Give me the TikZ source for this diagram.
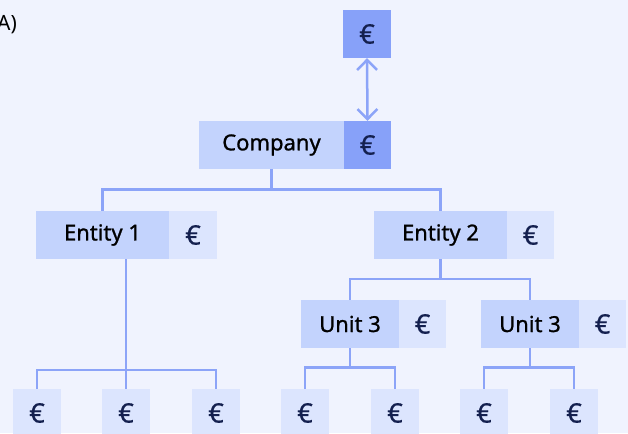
\documentclass[tikz,border=0pt]{standalone}
\usepackage{fontspec}
\setmainfont{Noto Sans}
\usetikzlibrary{arrows.meta}
\definecolor{bgc}{HTML}{F0F3FE}
\definecolor{midc}{HTML}{C3D3FD}
\definecolor{darkc}{HTML}{87A1F9}
\definecolor{lightc}{HTML}{DCE5FE}
\definecolor{linec}{HTML}{8CA4F8}
\definecolor{eurc}{HTML}{14204F}
\tikzset{
  box/.style={rectangle, inner sep=0pt, minimum height=48pt, text=black},
  lbl/.style={box, fill=midc, font=\fontsize{22}{24}\selectfont\addfontfeature{FakeBold=1}},
  eur/.style={box, text=eurc, font=\fontsize{27}{28}\selectfont\addfontfeature{FakeBold=0.6}},
  eurodark/.style={eur, fill=darkc, minimum width=47pt},
  eurolight/.style={eur, fill=lightc, minimum width=48pt},
  conn/.style={draw=linec, line width=2.5pt},
}
\begin{document}
\begin{tikzpicture}[x=1pt,y=-1pt]
\useasboundingbox (0,0) rectangle (628,433);
\fill[bgc] (0,0) rectangle (628,433);
\node[font=\fontsize{21}{24}\selectfont, anchor=east, inner sep=0pt] (lab) at (17,25) {A)};
% top
\node[eurodark, minimum width=48pt] (top) at (367,34) {€};
\node[lbl, minimum width=145pt] (comp) at (271.5,145) {Company};
\node[eurodark] (compe) at (367.5,145) {€};
% entities
\node[lbl, minimum width=133pt] (e1) at (102.5,235) {Entity 1};
\node[eurolight] (e1e) at (193,235) {€};
\node[lbl, minimum width=133pt] (e2) at (440.5,235) {Entity 2};
\node[eurolight, minimum width=47pt] (e2e) at (530.5,235) {€};
% units
\node[lbl, minimum width=98pt] (u1) at (350,324) {Unit 3};
\node[eurolight, minimum width=47pt] (u1e) at (422.5,324) {€};
\node[lbl, minimum width=98pt] (u2) at (530,324) {Unit 3};
\node[eurolight, minimum width=47pt] (u2e) at (602.5,324) {€};
% bottom
\node[eurolight] (b1) at (37,413) {€};
\node[eurolight] (b2) at (126,413) {€};
\node[eurolight] (b3) at (216,413) {€};
\node[eurolight] (b4) at (305,413) {€};
\node[eurolight] (b5) at (395,413) {€};
\node[eurolight] (b6) at (484,413) {€};
\node[eurolight] (b7) at (574,413) {€};
% connectors
\draw[conn, {Straight Barb[length=10pt,width=20pt]}-{Straight Barb[length=10pt,width=20pt]}] (top.south) -- (compe.north);
\draw[conn] (comp.south) -- ++(0,20.5);
\draw[conn] (e1.north) -- ++(0,-21.5) -| (e2.north);
\draw[conn] (b2.north) -- (b2.north |- e1.south);
\draw[conn] (b1.north) -- ++(0,-19) -| (b3.north);
\draw[conn] (e2.south) -- ++(0,20);
\draw[conn] (u1.north) -- ++(0,-21) -| (u2.north);
\draw[conn] (u1.south) -- ++(0,19.5);
\draw[conn] (b4.north) -- ++(0,-21.5) -| (b5.north);
\draw[conn] (u2.south) -- ++(0,19.5);
\draw[conn] (b6.north) -- ++(0,-21.5) -| (b7.north);
\end{tikzpicture}
\end{document}
